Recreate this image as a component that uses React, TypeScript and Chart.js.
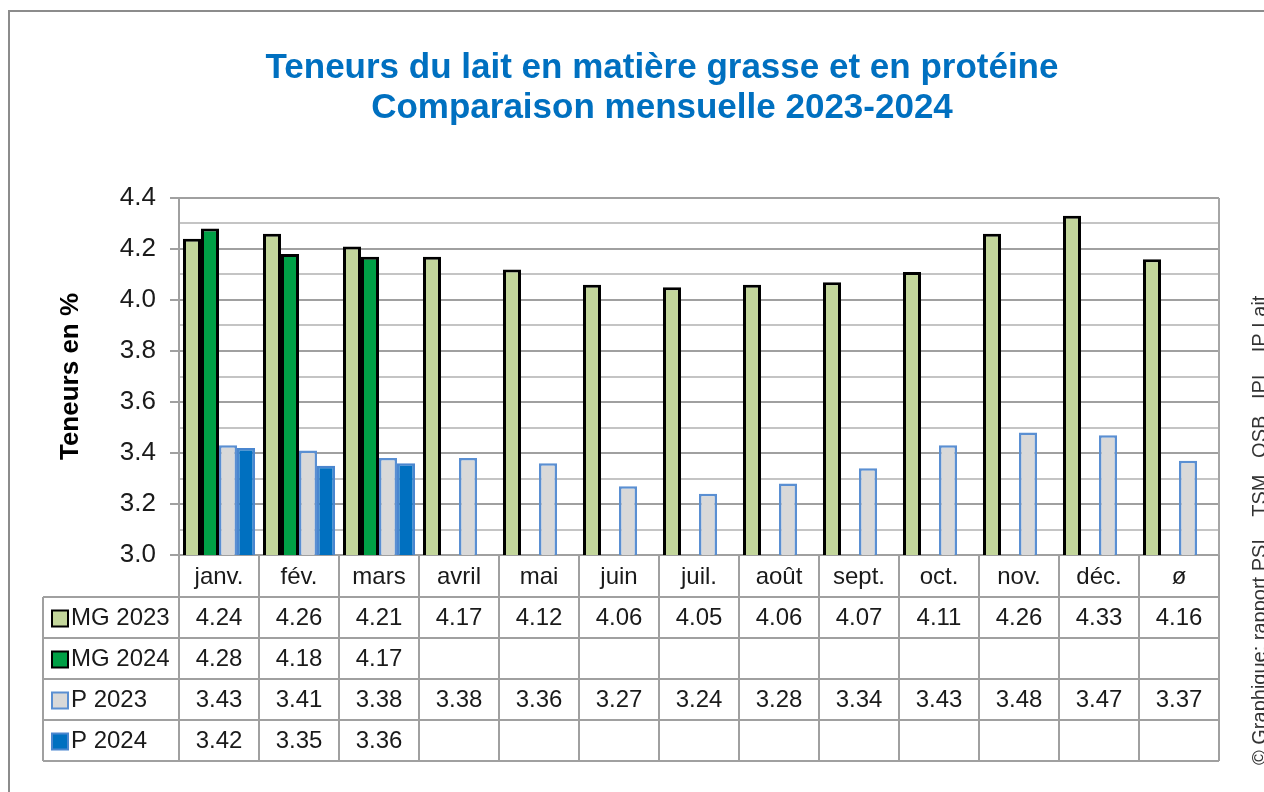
import React, { useEffect, useRef } from 'react';
import { Chart, registerables } from 'chart.js';

Chart.register(...registerables);

const categories = ['janv.', 'fév.', 'mars', 'avril', 'mai', 'juin', 'juil.', 'août', 'sept.', 'oct.', 'nov.', 'déc.', 'ø'];
const mg2023 = [4.24, 4.26, 4.21, 4.17, 4.12, 4.06, 4.05, 4.06, 4.07, 4.11, 4.26, 4.33, 4.16];
const mg2024 = [4.28, 4.18, 4.17, null, null, null, null, null, null, null, null, null, null];
const p2023 = [3.43, 3.41, 3.38, 3.38, 3.36, 3.27, 3.24, 3.28, 3.34, 3.43, 3.48, 3.47, 3.37];
const p2024 = [3.42, 3.35, 3.36, null, null, null, null, null, null, null, null, null, null];
const seriesLabels = ['MG 2023', 'MG 2024', 'P 2023', 'P 2024'];
const titleLines = ['Teneurs du lait en matière grasse et en protéine', 'Comparaison mensuelle 2023-2024'];
const yAxisTitle = 'Teneurs en %';
const sourceText = '© Graphique: rapport PSL   TSM   OSB   IPL   IP Lait';

const FONT = '"Liberation Sans", Arial, sans-serif';
const fills = ['#c3d69b', '#00a046', '#d9d9d9', '#0070c0'];
const borders = ['#000000', '#000000', '#5a8fd2', '#4a86cf'];
const borderWidths = [3, 3, 2.5, 2.5];

const decorPlugin = {
  id: 'decor',
  afterDraw(chart: any) {
    const ctx = chart.ctx as CanvasRenderingContext2D;
    const area = chart.chartArea;
    const xs = chart.scales.x;
    const n = categories.length;
    const cw = (area.right - area.left) / n;
    const headerBottom = area.bottom + 42;
    const rowH = 41;
    const tableLeft = 43;
    const rows = [mg2023, mg2024, p2023, p2024];

    ctx.save();
    // outer frame
    ctx.strokeStyle = '#8c8c8c';
    ctx.lineWidth = 2;
    ctx.beginPath();
    ctx.moveTo(9, 792);
    ctx.lineTo(9, 11);
    ctx.lineTo(1264, 11);
    ctx.stroke();

    // title
    ctx.fillStyle = '#0070c0';
    ctx.font = `bold 35px ${FONT}`;
    ctx.textAlign = 'center';
    ctx.textBaseline = 'middle';
    ctx.fillText(titleLines[0], 662, 68);
    ctx.fillText(titleLines[1], 662, 108);

    // right border of plot
    ctx.strokeStyle = '#a6a6a6';
    ctx.lineWidth = 2;
    ctx.beginPath();
    ctx.moveTo(area.right, area.top);
    ctx.lineTo(area.right, area.bottom);
    ctx.stroke();

    // table grid
    ctx.strokeStyle = '#a0a0a0';
    ctx.lineWidth = 2;
    ctx.beginPath();
    for (let i = 0; i <= n; i++) {
      const bx = i < n ? xs.getPixelForValue(i) - cw / 2 : xs.getPixelForValue(n - 1) + cw / 2;
      ctx.moveTo(bx, area.bottom);
      ctx.lineTo(bx, headerBottom + rowH * rows.length);
    }
    ctx.moveTo(tableLeft, headerBottom);
    ctx.lineTo(tableLeft, headerBottom + rowH * rows.length);
    for (let r = 0; r <= rows.length; r++) {
      const y = headerBottom + rowH * r;
      ctx.moveTo(tableLeft, y);
      ctx.lineTo(area.right, y);
    }
    ctx.stroke();

    // header labels
    ctx.fillStyle = '#1a1a1a';
    ctx.font = `24px ${FONT}`;
    ctx.textAlign = 'center';
    ctx.textBaseline = 'middle';
    categories.forEach((c, i) => {
      ctx.fillText(c, xs.getPixelForValue(i), (area.bottom + headerBottom) / 2 + 1);
    });

    // rows
    rows.forEach((vals, r) => {
      const cy = headerBottom + rowH * r + rowH / 2 + 1;
      ctx.fillStyle = fills[r];
      ctx.fillRect(52, cy - 8, 16, 16);
      ctx.strokeStyle = borders[r];
      ctx.lineWidth = 2;
      ctx.strokeRect(52, cy - 8, 16, 16);
      ctx.fillStyle = '#1a1a1a';
      ctx.textAlign = 'left';
      ctx.fillText(seriesLabels[r], 71, cy);
      ctx.textAlign = 'center';
      vals.forEach((v, i) => {
        if (v !== null && v !== undefined) ctx.fillText((v as number).toFixed(2), xs.getPixelForValue(i), cy);
      });
    });

    // source text, rotated
    ctx.save();
    ctx.translate(1266, 765);
    ctx.rotate(-Math.PI / 2);
    ctx.fillStyle = '#333333';
    ctx.font = `20px ${FONT}`;
    ctx.textAlign = 'left';
    ctx.textBaseline = 'alphabetic';
    ctx.fillText(sourceText, 0, 0);
    ctx.restore();

    ctx.restore();
  },
};

export default function App() {
  const ref = useRef<HTMLCanvasElement | null>(null);
  useEffect(() => {
    if (!ref.current) return;
    const isMajor = (v: number) => Math.round(v * 10) % 2 === 0;
    const chart = new Chart(ref.current, {
      type: 'bar',
      data: {
        labels: categories,
        datasets: [mg2023, mg2024, p2023, p2024].map((d, i) => ({
          label: seriesLabels[i],
          data: d as any,
          backgroundColor: fills[i],
          borderColor: borders[i],
          borderWidth: borderWidths[i],
          categoryPercentage: 0.9,
          barPercentage: 1.0,
        })),
      },
      options: {
        responsive: false,
        animation: false,
        layout: { padding: { top: 198, bottom: 237, left: 55, right: 45 } },
        plugins: { legend: { display: false }, tooltip: { enabled: false }, title: { display: false } },
        scales: {
          x: { display: false },
          y: {
            min: 3.0,
            max: 4.4,
            afterFit: (s: any) => { s.width = 124; },
            title: {
              display: true,
              text: yAxisTitle,
              color: '#000',
              font: { family: FONT, size: 26, weight: 'bold' },
              padding: { top: 0, bottom: 0 },
            },
            ticks: {
              stepSize: 0.1,
              autoSkip: false,
              padding: 14,
              color: '#1a1a1a',
              font: { family: FONT, size: 26 },
              callback: (v: any) => (isMajor(Number(v)) ? Number(v).toFixed(1) : ''),
            },
            grid: {
              color: (c: any) => (isMajor(c.tick?.value ?? 0) ? '#a0a0a0' : '#c4c4c4'),
              tickColor: (c: any) => (isMajor(c.tick?.value ?? 0) ? '#a0a0a0' : 'rgba(0,0,0,0)'),
              lineWidth: 2,
              tickLength: 9,
            },
            border: { display: true, color: '#a0a0a0', width: 2 },
          },
        },
      },
      plugins: [decorPlugin],
    });
    return () => chart.destroy();
  }, []);
  return (
    <div style={{ position: 'absolute', left: 0, top: 0, width: 1264, height: 792, background: '#fff' }}>
      <canvas ref={ref} width={1264} height={792} style={{ display: 'block' }} />
    </div>
  );
}
